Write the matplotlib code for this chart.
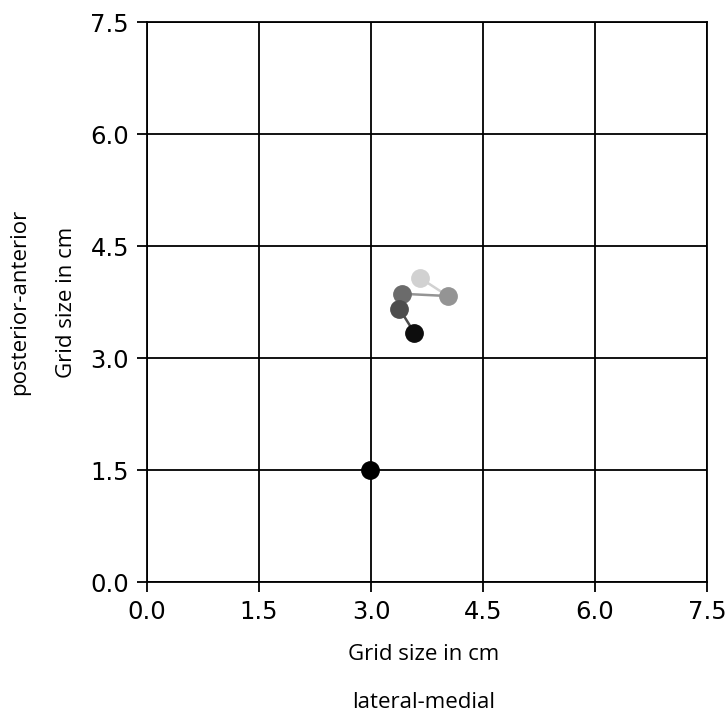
import matplotlib
matplotlib.use("Agg")
import matplotlib.pyplot as plt
import numpy as np

# trajectory of centre of pressure (cm), oldest -> newest
path_x = [3.66, 4.03, 3.42, 3.38, 3.58]
path_y = [4.07, 3.83, 3.86, 3.66, 3.34]
path_grey = [0.82, 0.58, 0.42, 0.30, 0.05]

# reference point
ref_x = [2.99]
ref_y = [1.50]

ticks = [0.0, 1.5, 3.0, 4.5, 6.0, 7.5]

fig = plt.figure(figsize=(7.28, 7.13), dpi=100)
ax = fig.add_axes([147 / 728, 1 - 582 / 713, 560 / 728, 560 / 713])

for i in range(len(path_x) - 1):
    g = path_grey[i]
    ax.plot(path_x[i:i + 2], path_y[i:i + 2], color=(g, g, g), lw=1.8, zorder=2)
for x, y, g in zip(path_x, path_y, path_grey):
    ax.plot(x, y, 'o', ms=12.5, color=(g, g, g), zorder=3)
ax.plot(ref_x, ref_y, 'o', ms=12.5, color='black', zorder=3)

ax.set_xlim(0, 7.5)
ax.set_ylim(0, 7.5)
ax.set_xticks(ticks)
ax.set_yticks(ticks)
ax.set_xticklabels(['%.1f' % t for t in ticks], fontsize=17.5)
ax.set_yticklabels(['%.1f' % t for t in ticks], fontsize=17.5)
ax.tick_params(length=7, width=1.3, color='black', pad=6)
ax.grid(True, color='black', lw=1.3)
ax.set_axisbelow(True)
for s in ax.spines.values():
    s.set_linewidth(1.3)

lab = dict(fontsize=16, family=['Open Sans', 'DejaVu Sans'], ha='center', va='center')
fig.text(424 / 728, 1 - 655 / 713, 'Grid size in cm', **lab)
fig.text(424 / 728, 1 - 703 / 713, 'lateral-medial', **lab)
fig.text(66 / 728, 1 - 302 / 713, 'Grid size in cm', rotation=90, **lab)
fig.text(20 / 728, 1 - 302 / 713, 'posterior-anterior', rotation=90, **lab)

fig.savefig('out.png', dpi=100)
